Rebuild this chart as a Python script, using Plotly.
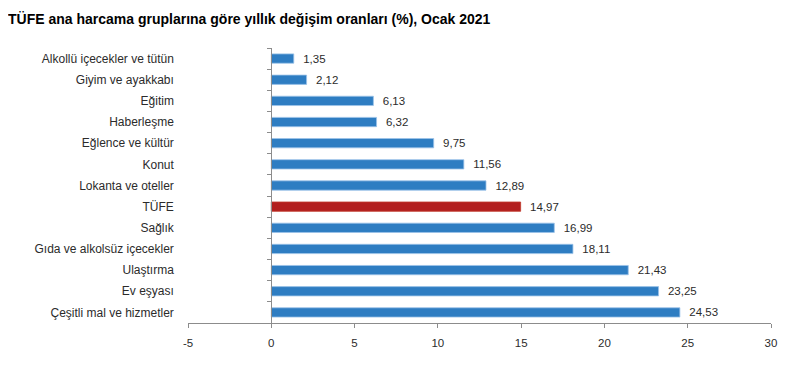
import plotly.graph_objects as go

categories = ["Alkollü içecekler ve tütün", "Giyim ve ayakkabı", "Eğitim", "Haberleşme",
              "Eğlence ve kültür", "Konut", "Lokanta ve oteller", "TÜFE", "Sağlık",
              "Gıda ve alkolsüz içecekler", "Ulaştırma", "Ev eşyası", "Çeşitli mal ve hizmetler"]
values = [1.35, 2.12, 6.13, 6.32, 9.75, 11.56, 12.89, 14.97, 16.99, 18.11, 21.43, 23.25, 24.53]
highlight = "TÜFE"
x_ticks = [-5, 0, 5, 10, 15, 20, 25, 30]
x_tick_labels = ["-5", "0", "5", "10", "15", "20", "25", "30"]

BLUE = "#2E7DC2"
RED = "#B21E1E"
FONT = "Liberation Sans, Arial, sans-serif"
TXT = "#2B2B2B"

colors = [RED if c == highlight else BLUE for c in categories]
edges = ["#C0392B" if c == highlight else "#9CC3E8" for c in categories]

fig = go.Figure(go.Bar(
    x=values, y=categories, orientation="h",
    marker=dict(color=colors, line=dict(color=edges, width=0.8)),
    texttemplate="\u00a0\u00a0%{x:.2f}", textposition="outside", cliponaxis=False,
    constraintext="none",
    textfont=dict(family=FONT, size=11.5, color=TXT),
))

# page body has an 8px margin, so the figure is sized/placed to compensate
W, H = 801, 370
fig.update_layout(
    width=W, height=H,
    margin=dict(l=180, r=38, t=40, b=55, autoexpand=False),
    paper_bgcolor="white", plot_bgcolor="white",
    separators=",.",
    bargap=0.56,
    showlegend=False,
    font=dict(family=FONT, size=11.5, color=TXT),
    title=dict(text="TÜFE ana harcama gruplarına göre yıllık değişim oranları (%), Ocak 2021",
               xref="container", x=0, xanchor="left",
               yref="container", y=1 - 11 / H, yanchor="middle", pad=dict(l=0, t=0, b=0, r=0),
               font=dict(family=FONT, size=14, color="black", weight="bold")),
    xaxis=dict(range=[-5, 30], tickvals=x_ticks, ticktext=x_tick_labels,
               showgrid=False, zeroline=False,
               showline=True, linecolor="#8C8C8C", linewidth=1,
               ticks="outside", ticklen=4, tickcolor="#8C8C8C", ticklabelstandoff=5,
               tickfont=dict(size=11.5, color=TXT)),
    yaxis=dict(type="category", categoryorder="array", categoryarray=categories,
               autorange="reversed", anchor="free", position=5 / 35,
               showline=True, linecolor="#8C8C8C", linewidth=1,
               ticks="outside", tickson="boundaries", ticklen=4, tickcolor="#8C8C8C",
               ticklabelstandoff=95, showgrid=False, automargin=False,
               tickfont=dict(size=12, color=TXT)),
)

fig.write_html("out.html")
